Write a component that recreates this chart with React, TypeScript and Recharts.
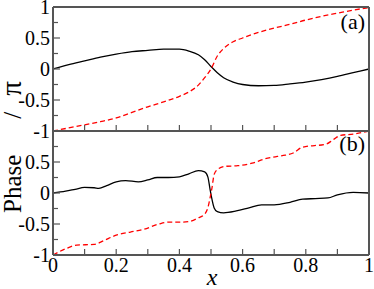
import { LineChart, Line, XAxis, YAxis } from 'recharts';

// panel (a)
const xBlackA = [0, 0.05, 0.1, 0.15, 0.2, 0.25, 0.3, 0.35, 0.4, 0.43, 0.46, 0.48, 0.5, 0.52, 0.54, 0.57, 0.6, 0.65, 0.7, 0.75, 0.8, 0.85, 0.9, 0.95, 1];
const blackA = [0, 0.07, 0.13, 0.19, 0.24, 0.28, 0.3, 0.32, 0.32, 0.29, 0.23, 0.15, 0.04, -0.06, -0.14, -0.21, -0.25, -0.27, -0.265, -0.24, -0.21, -0.17, -0.12, -0.06, 0];
const xRedA = [0, 0.05, 0.1, 0.15, 0.2, 0.25, 0.3, 0.35, 0.4, 0.43, 0.46, 0.48, 0.5, 0.52, 0.54, 0.57, 0.6, 0.65, 0.7, 0.75, 0.8, 0.85, 0.9, 0.95, 1];
const redA = [-1, -0.95, -0.9, -0.85, -0.79, -0.7, -0.61, -0.53, -0.44, -0.37, -0.26, -0.14, 0, 0.21, 0.33, 0.44, 0.5, 0.59, 0.66, 0.72, 0.79, 0.85, 0.9, 0.95, 0.99];

// panel (b)
const xBlackB = [0, 0.04, 0.07, 0.1, 0.13, 0.145, 0.17, 0.2, 0.23, 0.27, 0.3, 0.33, 0.365, 0.4, 0.43, 0.46, 0.48, 0.49, 0.497, 0.503, 0.51, 0.52, 0.54, 0.58, 0.62, 0.66, 0.7, 0.75, 0.79, 0.83, 0.87, 0.9, 0.95, 1];
const blackB = [0, 0.03, 0.06, 0.09, 0.085, 0.075, 0.12, 0.18, 0.2, 0.18, 0.21, 0.25, 0.25, 0.26, 0.31, 0.36, 0.34, 0.26, 0.06, -0.1, -0.24, -0.3, -0.32, -0.29, -0.24, -0.19, -0.19, -0.15, -0.1, -0.09, -0.08, -0.03, 0.01, 0];
const xRedB = [0, 0.04, 0.075, 0.13, 0.16, 0.2, 0.245, 0.285, 0.335, 0.365, 0.4, 0.43, 0.46, 0.48, 0.49, 0.497, 0.503, 0.51, 0.523, 0.545, 0.585, 0.63, 0.67, 0.71, 0.735, 0.76, 0.79, 0.865, 0.887, 0.91, 0.95, 1];
const redB = [-1, -0.9, -0.84, -0.83, -0.77, -0.68, -0.63, -0.59, -0.5, -0.47, -0.47, -0.46, -0.4, -0.34, -0.24, -0.08, 0.08, 0.3, 0.39, 0.43, 0.44, 0.48, 0.55, 0.59, 0.61, 0.645, 0.74, 0.79, 0.86, 0.93, 0.95, 1];

const xTicks = [0, 0.1, 0.2, 0.3, 0.4, 0.5, 0.6, 0.7, 0.8, 0.9, 1];
const yTicks = [-1, -0.75, -0.5, -0.25, 0, 0.25, 0.5, 0.75, 1];

const FRAME = '#555';
const FONT = 'Liberation Serif, DejaVu Serif, serif';

const toRows = (xs: number[], ys: number[]) => xs.map((x, i) => ({ x, y: ys[i] }));

const isMajorY = (v: number) => Math.abs(v * 2 - Math.round(v * 2)) < 1e-6;
const isLabelX = (v: number) => Math.abs(v * 5 - Math.round(v * 5)) < 1e-6;

function LeftTick(props: any) {
  const { x, y, payload, skipTop } = props;
  const v = payload.value;
  const major = isMajorY(v);
  return (
    <g>
      <line x1={x} x2={x + (major ? 7 : 5)} y1={y} y2={y} stroke={FRAME} strokeWidth={1.2} />
      {major && !(skipTop && v === 1) && (
        <text x={x - 3} y={y} dy="0.35em" textAnchor="end" fontSize={20} fontFamily={FONT} fill="#000">
          {String(v)}
        </text>
      )}
    </g>
  );
}

function RightTick(props: any) {
  const { x, y, payload } = props;
  const major = isMajorY(payload.value);
  return <line x1={x} x2={x - (major ? 7 : 5)} y1={y} y2={y} stroke={FRAME} strokeWidth={1.2} />;
}

function BottomTick(props: any) {
  const { x, y, payload, showLabel } = props;
  const v = payload.value;
  return (
    <g>
      <line x1={x} x2={x} y1={y} y2={y - 6} stroke={FRAME} strokeWidth={1.2} />
      {showLabel && isLabelX(v) && (
        <text x={x} y={y + 17} textAnchor="middle" fontSize={20} fontFamily={FONT} fill="#000">
          {String(v)}
        </text>
      )}
    </g>
  );
}

function TopTick(props: any) {
  const { x, y } = props;
  return <line x1={x} x2={x} y1={y} y2={y + 6} stroke={FRAME} strokeWidth={1.2} />;
}

const axisLine = { stroke: FRAME, strokeWidth: 2 };

function Panel({ black, red, margin, last }: { black: any[]; red: any[]; margin: any; last: boolean }) {
  return (
    <div style={{ position: 'absolute', left: 0, top: 0 }}>
      <LineChart width={374} height={289} margin={margin}>
        <XAxis
          type="number"
          dataKey="x"
          domain={[0, 1]}
          ticks={xTicks}
          height={1}
          tickSize={0}
          tickMargin={0}
          axisLine={axisLine}
          tickLine={false}
          tick={(p: any) => <BottomTick {...p} showLabel={last} />}
          interval={0}
        />
        <XAxis
          xAxisId="top"
          orientation="top"
          type="number"
          dataKey="x"
          domain={[0, 1]}
          ticks={xTicks}
          height={1}
          tickSize={0}
          tickMargin={0}
          axisLine={axisLine}
          tickLine={false}
          tick={(p: any) => <TopTick {...p} />}
          interval={0}
        />
        <YAxis
          type="number"
          domain={[-1, 1]}
          ticks={yTicks}
          width={1}
          tickSize={0}
          tickMargin={0}
          axisLine={axisLine}
          tickLine={false}
          tick={(p: any) => <LeftTick {...p} skipTop={last} />}
          interval={0}
        />
        <YAxis
          yAxisId="right"
          orientation="right"
          type="number"
          domain={[-1, 1]}
          ticks={yTicks}
          width={1}
          tickSize={0}
          tickMargin={0}
          axisLine={axisLine}
          tickLine={false}
          tick={(p: any) => <RightTick {...p} />}
          interval={0}
        />
        <Line data={black} dataKey="y" type="monotone" stroke="#000" strokeWidth={1.3} dot={false} isAnimationActive={false} />
        <Line
          data={red}
          dataKey="y"
          type="monotone"
          stroke="#ff0000"
          strokeWidth={1.3}
          strokeDasharray="5 3"
          dot={false}
          isAnimationActive={false}
        />
      </LineChart>
    </div>
  );
}

export default function App() {
  return (
    <div style={{ position: 'absolute', left: 0, top: 0, width: 374, height: 289, background: '#fff' }}>
      <Panel black={toRows(xBlackA, blackA)} red={toRows(xRedA, redA)} margin={{ top: 6, right: 4, bottom: 157, left: 52 }} last={false} />
      <Panel black={toRows(xBlackB, blackB)} red={toRows(xRedB, redB)} margin={{ top: 130, right: 4, bottom: 33, left: 52 }} last={true} />
      <svg width={374} height={289} style={{ position: 'absolute', left: 0, top: 0, pointerEvents: 'none' }}>
        <text transform="translate(21, 213) rotate(-90)" fontSize={25} fontFamily={FONT} fill="#000">
          Phase
          <tspan dx={36}>/</tspan>
          <tspan dx={16} fontSize={29}>π</tspan>
        </text>
        <text x={212} y={285} textAnchor="middle" fontSize={24} fontStyle="italic" fontFamily={FONT} fill="#000">
          x
        </text>
        <text x={365} y={29} textAnchor="end" fontSize={22} fontFamily={FONT} fill="#000">
          (a)
        </text>
        <text x={365} y={151} textAnchor="end" fontSize={22} fontFamily={FONT} fill="#000">
          (b)
        </text>
      </svg>
    </div>
  );
}
